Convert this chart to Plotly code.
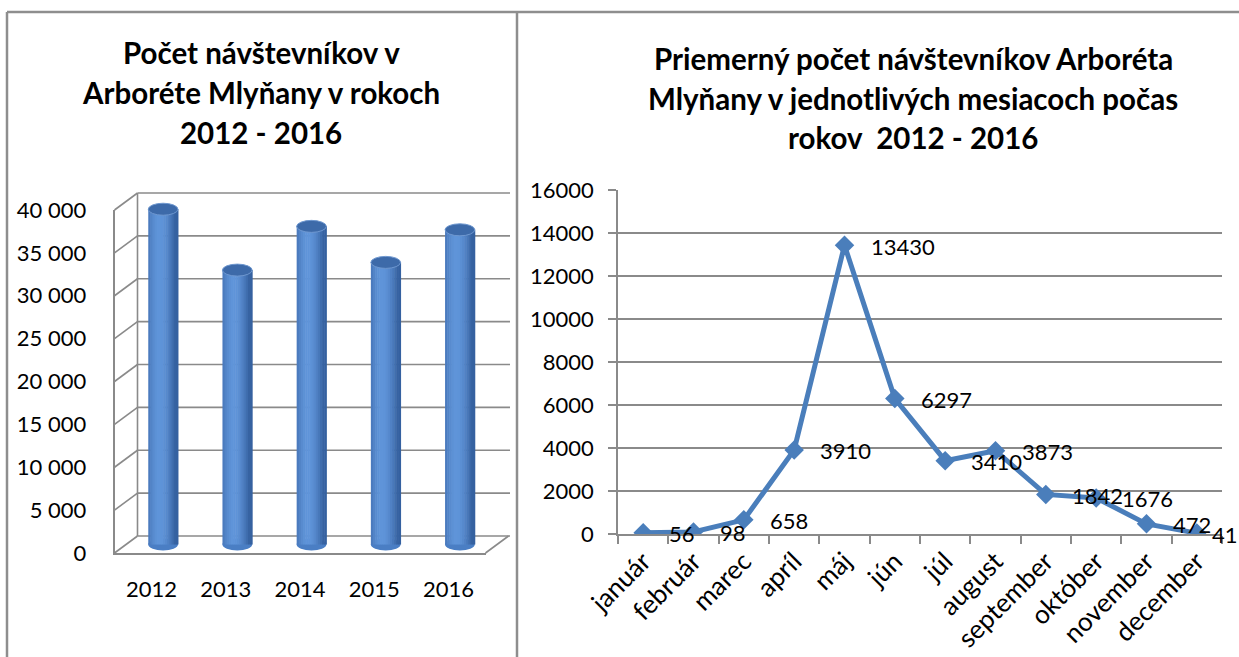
import math
import plotly.graph_objects as go

# ---------------- data ----------------
years = ["2012", "2013", "2014", "2015", "2016"]
visitors_per_year = [39100, 32000, 37100, 32900, 36700]
year_ticks = [0, 5000, 10000, 15000, 20000, 25000, 30000, 35000, 40000]
year_tick_text = ["0", "5 000", "10 000", "15 000", "20 000", "25 000", "30 000", "35 000", "40 000"]

months = ["január", "február", "marec", "apríl", "máj", "jún", "júl", "august",
          "september", "október", "november", "december"]
avg_visitors_month = [56, 98, 658, 3910, 13430, 6297, 3410, 3873, 1842, 1676, 472, 41]
month_ticks = [0, 2000, 4000, 6000, 8000, 10000, 12000, 14000, 16000]

title_left = ["Počet návštevníkov v", "Arboréte Mlyňany v rokoch", "2012 - 2016"]
title_right = ["Priemerný počet návštevníkov Arboréta",
               "Mlyňany v jednotlivých mesiacoch počas", "rokov  2012 - 2016"]

# ---------------- geometry helpers ----------------
W, H = 1239, 657
FONT = "Lato, 'Open Sans', sans-serif"
GRID = "#8A8A8A"


def px(p):
    return p / W


def py(p):
    return 1 - p / H


# left (3D-like) chart planes in pixels
FRONT_L, FRONT_R, FRONT_Y0, FRONT_Y1 = 114.5, 485.5, 553.0, 210.0
DX, DY = 23.0, -17.0
YMAX = 40000.0
scale = (FRONT_Y0 - FRONT_Y1) / YMAX


def fy(v):
    return FRONT_Y0 - v * scale


fig = go.Figure()

# cylinder bars built from shaded strips
bw = 0.4
N = 14
dark = (0x2E, 0x58, 0x96)
light = (0x60, 0x95, 0xDA)
xs = list(range(len(years)))
for k in range(N):
    t = (k + 0.5) / N
    f = max(0.0, math.cos((t - 0.38) * math.pi * 0.95))
    f = 0.15 + 0.85 * f
    col = "rgb(%d,%d,%d)" % tuple(int(d + (l - d) * f) for d, l in zip(dark, light))
    fig.add_trace(go.Bar(
        x=xs, y=visitors_per_year, xaxis="x2", yaxis="y2",
        width=bw / N * 1.25, offset=-bw / 2 + k * bw / N,
        marker=dict(color=col, line=dict(width=0)),
        hoverinfo="skip", showlegend=False,
    ))

# invisible trace to keep the front axes alive
fig.add_trace(go.Scatter(x=[0, 4], y=[0, 0], xaxis="x", yaxis="y", mode="markers",
                         marker=dict(opacity=0), hoverinfo="skip", showlegend=False))

# line chart
fig.add_trace(go.Scatter(
    x=months, y=avg_visitors_month, xaxis="x3", yaxis="y3",
    mode="lines+markers",
    line=dict(color="#4A7EBB", width=5),
    marker=dict(symbol="diamond", size=15, color="#4A7EBB"),
    hoverinfo="skip", showlegend=False,
))

shapes = []
line_style = dict(color=GRID, width=1.6)
# back wall gridlines and floor diagonals
for v in year_ticks:
    yf = fy(v)
    yb = yf + DY
    shapes.append(dict(type="line", xref="paper", yref="paper", layer="below",
                       x0=px(FRONT_L), y0=py(yf), x1=px(FRONT_L + DX), y1=py(yb), line=line_style))
    shapes.append(dict(type="line", xref="paper", yref="paper", layer="below",
                       x0=px(FRONT_L + DX), y0=py(yb), x1=px(510), y1=py(yb), line=line_style))
shapes.append(dict(type="line", xref="paper", yref="paper", layer="below",
                   x0=px(FRONT_L + DX), y0=py(fy(0) + DY), x1=px(FRONT_L + DX), y1=py(fy(YMAX) + DY),
                   line=line_style))
shapes.append(dict(type="line", xref="paper", yref="paper", layer="below",
                   x0=px(FRONT_R), y0=py(fy(0)), x1=px(FRONT_R + DX), y1=py(fy(0) + DY),
                   line=line_style))

# ellipse caps of cylinders
eh = 6.0 / scale
for i, v in enumerate(visitors_per_year):
    shapes.append(dict(type="circle", xref="x2", yref="y2", layer="below",
                       x0=i - bw / 2, x1=i + bw / 2, y0=-eh, y1=eh,
                       fillcolor="#4A7EC4", line=dict(width=0)))
    shapes.append(dict(type="circle", xref="x2", yref="y2", layer="above",
                       x0=i - bw / 2, x1=i + bw / 2, y0=v - eh, y1=v + eh,
                       fillcolor="#3D6AA9", line=dict(color="#6E97CF", width=1)))

# outer frame
frame = dict(color="#8E8E8E", width=2.5)
shapes.append(dict(type="line", xref="paper", yref="paper", x0=px(7), y0=py(12), x1=1, y1=py(12), line=frame))
shapes.append(dict(type="line", xref="paper", yref="paper", x0=px(7), y0=py(12), x1=px(7), y1=0, line=frame))
shapes.append(dict(type="line", xref="paper", yref="paper", x0=px(517), y0=py(12), x1=px(517), y1=0, line=frame))

annotations = []
for i, s in enumerate(title_left):
    annotations.append(dict(text="<b>%s</b>" % s, xref="paper", yref="paper", x=px(261), y=py(52 + 40 * i),
                            xanchor="center", yanchor="middle", showarrow=False,
                            font=dict(family=FONT, size=29.5, color="black")))
for i, s in enumerate(title_right):
    annotations.append(dict(text="<b>%s</b>" % s, xref="paper", yref="paper", x=px(913), y=py(59 + 39 * i),
                            xanchor="center", yanchor="middle", showarrow=False,
                            font=dict(family=FONT, size=29.5, color="black")))
last = len(months) - 1
for i, (m, v) in enumerate(zip(months, avg_visitors_month)):
    annotations.append(dict(text=str(v), xref="x3", yref="y3", x=m, y=v,
                            xanchor="left", yanchor="middle", xshift=24 if i < last else 13, yshift=-1,
                            showarrow=False,
                            font=dict(family=FONT, size=22, color="black")))

fig.update_layout(
    width=W, height=H, margin=dict(l=0, r=0, t=0, b=0, pad=0, autoexpand=False),
    paper_bgcolor="white", plot_bgcolor="rgba(0,0,0,0)",
    barmode="overlay", showlegend=False,
    font=dict(family=FONT, color="black"),
    shapes=shapes, annotations=annotations,
    xaxis=dict(domain=[px(FRONT_L), px(FRONT_R)], anchor="y", range=[-0.5, 4.5], automargin=False,
               tickvals=xs, ticktext=years, showgrid=False, zeroline=False,
               showline=True, linecolor=GRID, linewidth=1.6, ticks="",
               ticklabelstandoff=16, tickfont=dict(size=22, family=FONT)),
    yaxis=dict(domain=[py(FRONT_Y0), py(FRONT_Y1)], anchor="x", range=[0, YMAX], automargin=False,
               tickvals=year_ticks, ticktext=year_tick_text, showgrid=False, zeroline=False,
               showline=True, linecolor=GRID, linewidth=1.6, ticks="",
               ticklabelstandoff=22, tickfont=dict(size=22, family=FONT)),
    xaxis2=dict(domain=[px(FRONT_L + DX / 2), px(FRONT_R + DX / 2)], anchor="y2", range=[-0.5, 4.5],
                visible=False, automargin=False),
    yaxis2=dict(domain=[py(fy(-1500) + DY / 2), py(fy(YMAX) + DY / 2)], anchor="x2",
                range=[-1500, YMAX], visible=False, automargin=False),
    xaxis3=dict(domain=[px(618), px(1222)], anchor="y3", type="category", automargin=False,
                range=[-0.5, len(months) - 0.5],
                showgrid=False, zeroline=False, showline=True, linecolor=GRID, linewidth=1.6,
                ticks="outside", tickson="boundaries", ticklen=8, tickcolor=GRID, tickwidth=1.6,
                ticklabelstandoff=0,
                tickangle=-45, tickfont=dict(size=26, family=FONT)),
    yaxis3=dict(domain=[py(534), py(190)], anchor="x3", range=[0, 16000], tickvals=month_ticks,
                tickformat="d", automargin=False,
                showgrid=True, gridcolor=GRID, gridwidth=1.6, zeroline=False,
                showline=True, linecolor=GRID, linewidth=1.6,
                ticks="outside", ticklen=8, tickcolor=GRID, tickwidth=1.6,
                ticklabelstandoff=10,
                tickfont=dict(size=22, family=FONT)),
)

fig.write_html("out.html", config={"displayModeBar": False},
               post_script="document.body.style.margin='0';")
